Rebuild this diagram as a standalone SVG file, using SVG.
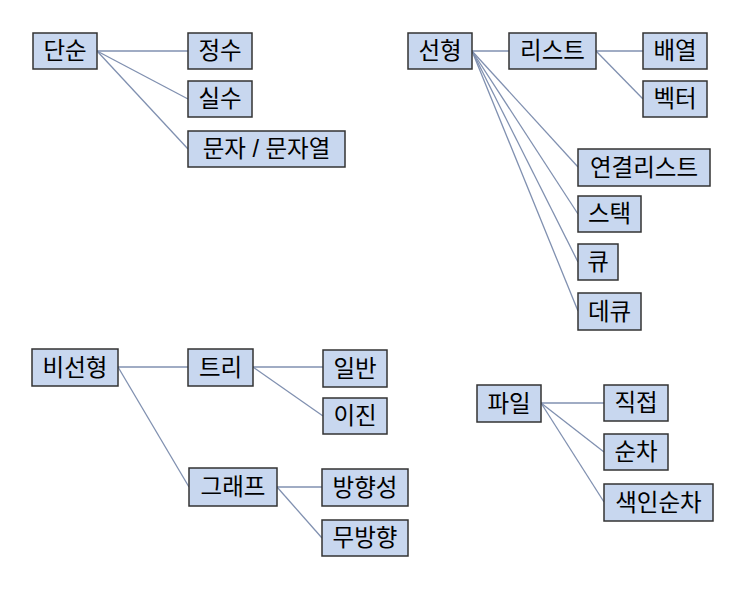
<svg xmlns="http://www.w3.org/2000/svg" width="750" height="589" viewBox="0 0 750 589">
<style>
.n rect{fill:#c8d7ef;stroke:#333;stroke-width:1.5}
.n text{font-family:"Liberation Sans","Noto Sans CJK KR",sans-serif;font-size:23.5px;fill:#000;text-anchor:middle;dominant-baseline:central}
#connectors line{stroke:#8090b0;stroke-width:1.3}
</style>
<rect width="750" height="589" fill="#fff"/>
<g id="connectors">
<line x1="97" y1="51" x2="188" y2="51"/>
<line x1="97" y1="51" x2="188" y2="99"/>
<line x1="97" y1="51" x2="188" y2="149"/>
<line x1="472" y1="51" x2="509" y2="51"/>
<line x1="472" y1="51" x2="578" y2="167"/>
<line x1="472" y1="51" x2="578" y2="214"/>
<line x1="472" y1="51" x2="578" y2="262"/>
<line x1="472" y1="51" x2="578" y2="311"/>
<line x1="596" y1="51" x2="643" y2="51"/>
<line x1="596" y1="51" x2="643" y2="99"/>
<line x1="118" y1="367" x2="188" y2="367"/>
<line x1="118" y1="367" x2="189" y2="487"/>
<line x1="253" y1="367" x2="323" y2="367"/>
<line x1="253" y1="367" x2="323" y2="416"/>
<line x1="277" y1="487" x2="322" y2="487"/>
<line x1="277" y1="487" x2="322" y2="538"/>
<line x1="541" y1="403" x2="604" y2="403"/>
<line x1="541" y1="403" x2="604" y2="452"/>
<line x1="541" y1="403" x2="604" y2="502"/>
</g>
<g id="n-dansun" class="n"><rect x="33" y="33" width="64" height="36"/><text x="65" y="51">단순</text></g>
<g id="n-jeongsu" class="n"><rect x="188" y="33" width="64" height="36"/><text x="220" y="51">정수</text></g>
<g id="n-silsu" class="n"><rect x="188" y="81" width="64" height="36"/><text x="220" y="99">실수</text></g>
<g id="n-munja" class="n"><rect x="188" y="131" width="157" height="36"/><text x="266.5" y="149">문자 / 문자열</text></g>
<g id="n-seonhyeong" class="n"><rect x="408" y="33" width="64" height="36"/><text x="440" y="51">선형</text></g>
<g id="n-list" class="n"><rect x="509" y="33" width="87" height="36"/><text x="552.5" y="51">리스트</text></g>
<g id="n-array" class="n"><rect x="643" y="33" width="64" height="36"/><text x="675" y="51">배열</text></g>
<g id="n-vector" class="n"><rect x="643" y="81" width="64" height="36"/><text x="675" y="99">벡터</text></g>
<g id="n-linkedlist" class="n"><rect x="578" y="149" width="132" height="37"/><text x="644" y="167.5">연결리스트</text></g>
<g id="n-stack" class="n"><rect x="578" y="196" width="63" height="36"/><text x="609.5" y="214">스택</text></g>
<g id="n-queue" class="n"><rect x="578" y="244" width="40" height="36"/><text x="598" y="262">큐</text></g>
<g id="n-deque" class="n"><rect x="578" y="293" width="63" height="37"/><text x="609.5" y="311.5">데큐</text></g>
<g id="n-bisseonhyeong" class="n"><rect x="32" y="349" width="86" height="37"/><text x="75" y="367.5">비선형</text></g>
<g id="n-tree" class="n"><rect x="188" y="349" width="65" height="37"/><text x="220.5" y="367.5">트리</text></g>
<g id="n-general" class="n"><rect x="323" y="350" width="64" height="37"/><text x="355" y="368.5">일반</text></g>
<g id="n-binary" class="n"><rect x="323" y="398" width="64" height="36"/><text x="355" y="416">이진</text></g>
<g id="n-graph" class="n"><rect x="189" y="468" width="88" height="38"/><text x="233" y="487">그래프</text></g>
<g id="n-directed" class="n"><rect x="322" y="469" width="86" height="37"/><text x="365" y="487.5">방향성</text></g>
<g id="n-undirected" class="n"><rect x="322" y="520" width="86" height="36"/><text x="365" y="538">무방향</text></g>
<g id="n-file" class="n"><rect x="477" y="385" width="64" height="37"/><text x="509" y="403.5">파일</text></g>
<g id="n-direct" class="n"><rect x="604" y="385" width="64" height="36"/><text x="636" y="403">직접</text></g>
<g id="n-sequential" class="n"><rect x="604" y="434" width="64" height="36"/><text x="636" y="452">순차</text></g>
<g id="n-indexed" class="n"><rect x="604" y="484" width="109" height="37"/><text x="658.5" y="502.5">색인순차</text></g>
</svg>
